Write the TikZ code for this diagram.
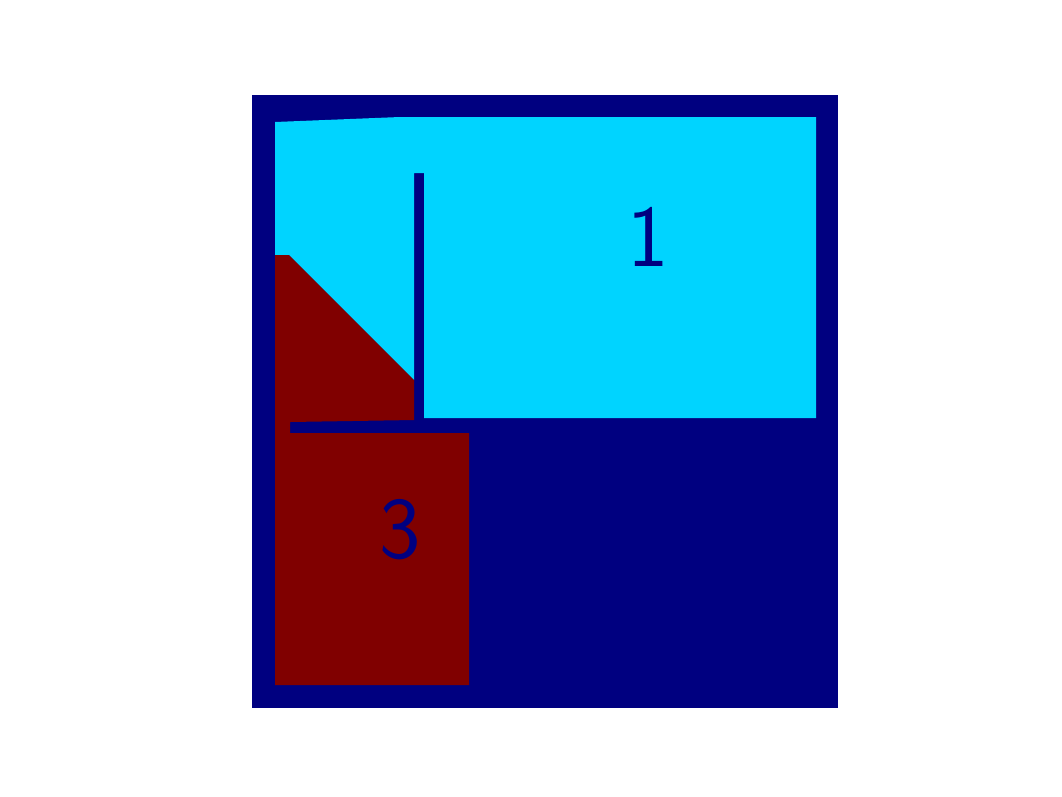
\documentclass[tikz,border=0pt]{standalone}
\usepackage{xcolor}
\usepackage{tikz}
\definecolor{navyblue}{RGB}{0,0,128}
\definecolor{skycyan}{RGB}{0,212,255}
\definecolor{darkmaroon}{RGB}{128,0,0}

\begin{document}
\begin{tikzpicture}[x=1pt, y=-1pt, every node/.style={font=\fontsize{88}{88}\selectfont\sffamily, text=navyblue, inner sep=0pt}]
  \useasboundingbox (0,0) rectangle (1062,796);
  \fill[navyblue] (252,95) rectangle (838,708);
  \fill[skycyan] (275,122) -- (400,117) -- (816,117) -- (816,418) -- (424,418) -- (424,173)
    -- (414,173) -- (414,380) -- (289,255) -- (275,255) -- cycle;
  \fill[darkmaroon] (275,255) -- (289,255) -- (414,380) -- (414,420) -- (290,422) -- (290,433)
    -- (469,433) -- (469,685) -- (275,685) -- cycle;

  \node (one) at (648,237) {1};
  \node (three) at (400,530) {3};
\end{tikzpicture}
\end{document}
